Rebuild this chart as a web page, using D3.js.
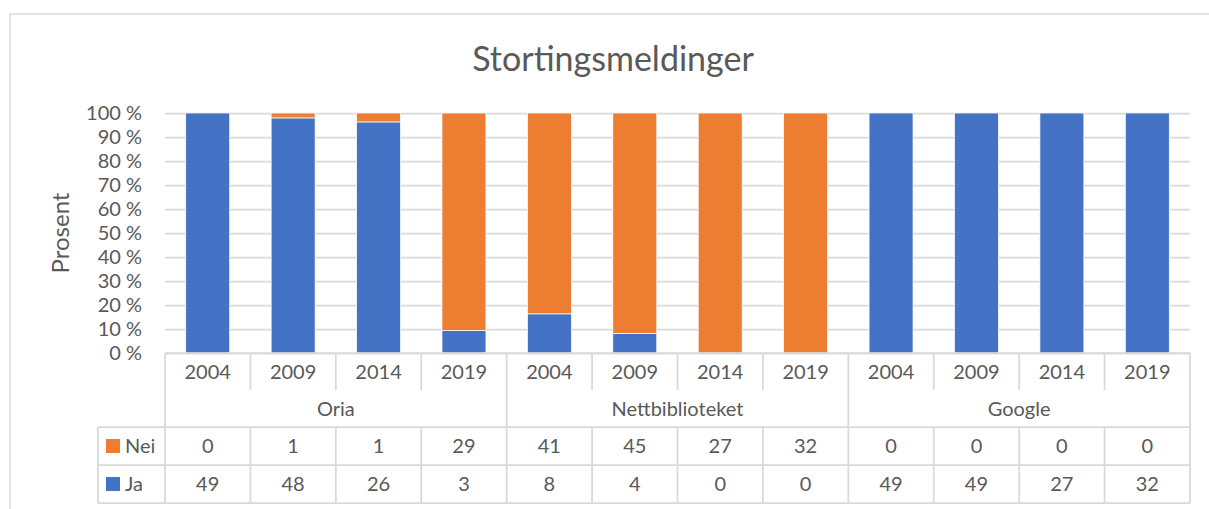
<!DOCTYPE html>
<html>
<head>
<meta charset="utf-8">
<script src="https://cdn.jsdelivr.net/npm/d3@7"></script>
<style>
  body { margin: 0; background: #fff; }
  text { font-family: Lato, "Open Sans", sans-serif; fill: #595959; }
</style>
</head>
<body>
<div id="viz"></div>
<script>
var groups = ["Oria", "Nettbiblioteket", "Google"];
var years = ["2004", "2009", "2014", "2019"];
var nei = [0, 1, 1, 29, 41, 45, 27, 32, 0, 0, 0, 0];
var ja = [49, 48, 26, 3, 8, 4, 0, 0, 49, 49, 27, 32];
var yTicks = [0, 0.1, 0.2, 0.3, 0.4, 0.5, 0.6, 0.7, 0.8, 0.9, 1];

var W = 1209, H = 509;
var grey = "#d9d9d9";

// one entry per column: group + year
var cols = [];
groups.forEach(function(g, gi) {
  years.forEach(function(y, yi) {
    var i = gi * years.length + yi;
    var tot = ja[i] + nei[i];
    cols.push({key: g + "-" + y, group: g, year: y, first: yi == 0,
      ja: ja[i], nei: nei[i],
      jaP: tot ? ja[i] / tot : 0, neiP: tot ? nei[i] / tot : 0});
  });
});

var plotL = 165, plotR = 1190, plotT = 113, plotB = 353;
var rowYear = [353, 390], rowGroup = [390, 427], rowNei = [427, 465], rowJa = [465, 503];
var legLeft = 98;

var x = d3.scaleBand().domain(cols.map(function(d) { return d.key; }))
  .range([plotL, plotR]).paddingInner(0.485).paddingOuter(0.2425);
var y = d3.scaleLinear().domain([0, 1]).range([plotB, plotT]);
var step = x.step();

var svg = d3.select("#viz").append("svg").attr("width", W).attr("height", H);

// outer chart border
svg.append("rect").attr("x", 10).attr("y", 14).attr("width", W + 20).attr("height", H + 20)
  .attr("fill", "none").attr("stroke", grey).attr("stroke-width", 1.5);

// title
svg.append("text").attr("x", 613).attr("y", 71)
  .attr("text-anchor", "middle").attr("font-size", 34).text("Stortingsmeldinger");

// gridlines + y labels
var yAxis = d3.axisLeft(y).tickValues(yTicks).tickSize(-(plotR - plotL)).tickPadding(23)
  .tickFormat(function(d) { return Math.round(d * 100) + " %"; });
var ga = svg.append("g").attr("transform", "translate(" + plotL + ",0)").call(yAxis);
ga.select(".domain").remove();
ga.selectAll("line").attr("stroke", grey).attr("stroke-width", 1.75);
ga.selectAll("text").attr("font-size", 20).attr("font-family", "Lato").style("fill", "#595959");

svg.append("text").attr("transform", "translate(69," + ((plotT + plotB) / 2) + ") rotate(-90)")
  .attr("text-anchor", "middle").attr("font-size", 24).text("Prosent");

// stacked bars
var bars = svg.append("g");
bars.selectAll(".ja").data(cols).enter().append("rect")
  .attr("x", function(d) { return x(d.key); })
  .attr("width", x.bandwidth())
  .attr("y", function(d) { return y(d.jaP); })
  .attr("height", function(d) { return y(0) - y(d.jaP); })
  .attr("fill", "#4472C4").attr("stroke", "#fff").attr("stroke-width", 0.75);
bars.selectAll(".nei").data(cols).enter().append("rect")
  .attr("x", function(d) { return x(d.key); })
  .attr("width", x.bandwidth())
  .attr("y", function(d) { return y(d.jaP + d.neiP); })
  .attr("height", function(d) { return y(d.jaP) - y(d.jaP + d.neiP); })
  .attr("fill", "#ED7D31").attr("stroke", "#fff").attr("stroke-width", 0.75);

// data table lines
var lines = svg.append("g").attr("stroke", grey).attr("stroke-width", 1.75);
function hl(x1, x2, yy) { lines.append("line").attr("x1", x1).attr("x2", x2).attr("y1", yy).attr("y2", yy); }
function vl(xx, y1, y2) { lines.append("line").attr("x1", xx).attr("x2", xx).attr("y1", y1).attr("y2", y2); }
hl(plotL, plotR, plotB);
hl(legLeft, plotR, rowNei[0]);
hl(legLeft, plotR, rowJa[0]);
hl(legLeft, plotR, rowJa[1]);
vl(legLeft, rowNei[0], rowJa[1]);
cols.forEach(function(d) {
  var cx = x(d.key) - (step - x.bandwidth()) / 2;
  if (d.first) vl(cx, rowYear[0], rowJa[1]);
  else { vl(cx, rowYear[0], rowYear[1]); vl(cx, rowNei[0], rowJa[1]); }
});
vl(plotR, rowYear[0], rowJa[1]);

var fs = 20;
function mid(r) { return (r[0] + r[1]) / 2; }
var tbl = svg.append("g").attr("font-size", fs).attr("text-anchor", "middle");
tbl.selectAll(".yr").data(cols).enter().append("text")
  .attr("x", function(d) { return x(d.key) + x.bandwidth() / 2; })
  .attr("y", mid(rowYear)).attr("dy", "0.35em").text(function(d) { return d.year; });
tbl.selectAll(".grp").data(groups).enter().append("text")
  .attr("x", function(d) { return x(d + "-" + years[0]) - (step - x.bandwidth()) / 2 + step * years.length / 2; })
  .attr("y", mid(rowGroup)).attr("dy", "0.35em").text(function(d) { return d; });
tbl.selectAll(".nv").data(cols).enter().append("text")
  .attr("x", function(d) { return x(d.key) + x.bandwidth() / 2; })
  .attr("y", mid(rowNei)).attr("dy", "0.35em").text(function(d) { return d.nei; });
tbl.selectAll(".jv").data(cols).enter().append("text")
  .attr("x", function(d) { return x(d.key) + x.bandwidth() / 2; })
  .attr("y", mid(rowJa)).attr("dy", "0.35em").text(function(d) { return d.ja; });

// legend keys in table
var legend = [{name: "Nei", color: "#ED7D31", row: rowNei}, {name: "Ja", color: "#4472C4", row: rowJa}];
legend.forEach(function(l) {
  svg.append("rect").attr("x", 106).attr("y", mid(l.row) - 7).attr("width", 14).attr("height", 14).attr("fill", l.color);
  svg.append("text").attr("x", 125).attr("y", mid(l.row)).attr("dy", "0.35em").attr("font-size", fs).text(l.name);
});
</script>
</body>
</html>
